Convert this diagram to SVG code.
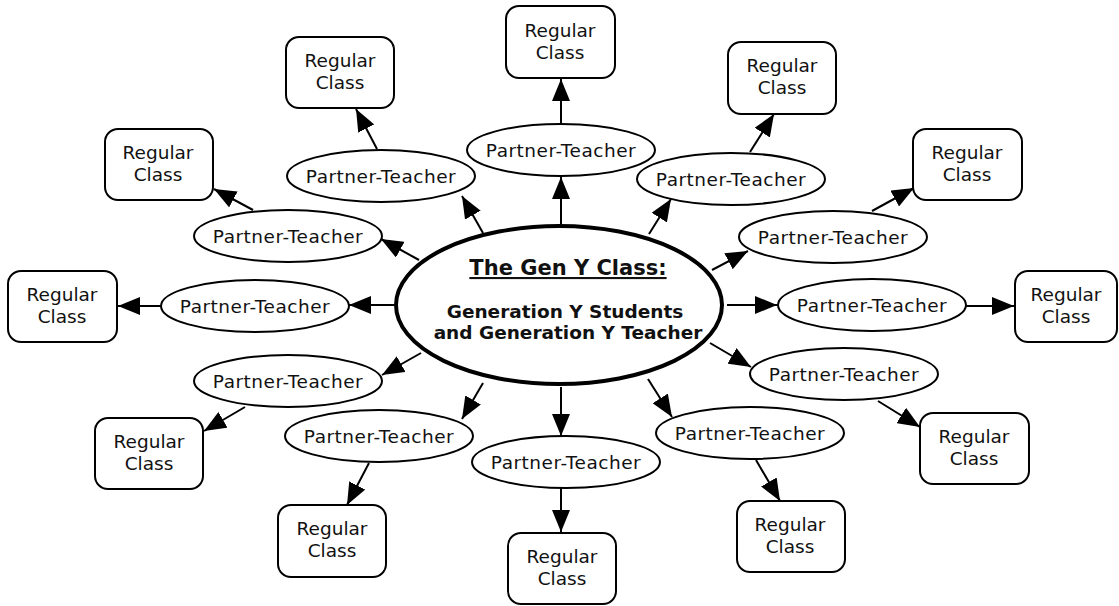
<svg xmlns="http://www.w3.org/2000/svg" width="1119" height="606" viewBox="0 0 1119 606">
<style>
.pt{fill:#fff;stroke:#000;stroke-width:2}
.rc{fill:#fff;stroke:#000;stroke-width:2}
.t{font-family:"DejaVu Sans","Liberation Sans",sans-serif;font-size:18.5px;fill:#111;text-anchor:middle}
.p{letter-spacing:0.5px}
.b{font-weight:bold;font-size:18.5px}
.c line{stroke:#000;stroke-width:2;marker-end:url(#ah)}
</style>
<defs>
<marker id="ah" markerUnits="userSpaceOnUse" markerWidth="22" markerHeight="18" refX="22" refY="9" orient="auto" viewBox="0 0 22 18">
<path d="M0,0 L22,9 L0,18 z" fill="#000"/>
</marker>
</defs>
<rect width="1119" height="606" fill="#fff"/>
<g id="connectors" class="c">
<line x1="561" y1="224" x2="561" y2="177"/>
<line x1="483" y1="233" x2="462" y2="196"/>
<line x1="649" y1="234" x2="671" y2="199"/>
<line x1="419" y1="260" x2="381" y2="239"/>
<line x1="712" y1="270" x2="748" y2="251"/>
<line x1="395" y1="305" x2="349" y2="305"/>
<line x1="727" y1="305" x2="777" y2="305"/>
<line x1="421" y1="353" x2="382" y2="375"/>
<line x1="710" y1="343" x2="751" y2="367"/>
<line x1="483" y1="383" x2="462" y2="419"/>
<line x1="648" y1="379" x2="672" y2="417"/>
<line x1="561" y1="387" x2="561" y2="436"/>
<line x1="561" y1="123" x2="561" y2="79"/>
<line x1="377" y1="149" x2="356" y2="109"/>
<line x1="750" y1="152" x2="774" y2="114"/>
<line x1="253" y1="210" x2="214" y2="189"/>
<line x1="872" y1="211" x2="914" y2="188"/>
<line x1="161" y1="306" x2="118" y2="306"/>
<line x1="966" y1="306" x2="1014" y2="306"/>
<line x1="245" y1="407" x2="204" y2="431"/>
<line x1="878" y1="401" x2="920" y2="427"/>
<line x1="369" y1="463" x2="347" y2="505"/>
<line x1="756" y1="460" x2="780" y2="501"/>
<line x1="561" y1="488" x2="561" y2="532"/>
</g>
<g id="center">
<ellipse cx="559" cy="305" rx="163" ry="79" fill="#fff" stroke="#000" stroke-width="4"/>
<text class="t b" x="568" y="275" style="font-size:21px" text-decoration="underline">The Gen Y Class:</text>
<text class="t b" x="565" y="318">Generation Y Students</text>
<text class="t b" x="568" y="339">and Generation Y Teacher</text>
</g>
<g id="pt1"><ellipse class="pt" cx="561" cy="150" rx="94" ry="26"/><text class="t p" x="561" y="157">Partner-Teacher</text></g>
<g id="pt2"><ellipse class="pt" cx="381" cy="176" rx="94" ry="26"/><text class="t p" x="381" y="183">Partner-Teacher</text></g>
<g id="pt3"><ellipse class="pt" cx="731" cy="179" rx="94" ry="26"/><text class="t p" x="731" y="186">Partner-Teacher</text></g>
<g id="pt4"><ellipse class="pt" cx="288" cy="236" rx="94" ry="26"/><text class="t p" x="288" y="243">Partner-Teacher</text></g>
<g id="pt5"><ellipse class="pt" cx="833" cy="237" rx="94" ry="26"/><text class="t p" x="833" y="244">Partner-Teacher</text></g>
<g id="pt6"><ellipse class="pt" cx="255" cy="306" rx="94" ry="26"/><text class="t p" x="255" y="313">Partner-Teacher</text></g>
<g id="pt7"><ellipse class="pt" cx="872" cy="305" rx="94" ry="26"/><text class="t p" x="872" y="312">Partner-Teacher</text></g>
<g id="pt8"><ellipse class="pt" cx="288" cy="381" rx="94" ry="26"/><text class="t p" x="288" y="388">Partner-Teacher</text></g>
<g id="pt9"><ellipse class="pt" cx="844" cy="374" rx="94" ry="26"/><text class="t p" x="844" y="381">Partner-Teacher</text></g>
<g id="pt10"><ellipse class="pt" cx="379" cy="436" rx="94" ry="26"/><text class="t p" x="379" y="443">Partner-Teacher</text></g>
<g id="pt11"><ellipse class="pt" cx="750" cy="433" rx="94" ry="26"/><text class="t p" x="750" y="440">Partner-Teacher</text></g>
<g id="pt12"><ellipse class="pt" cx="566" cy="462" rx="94" ry="26"/><text class="t p" x="566" y="469">Partner-Teacher</text></g>
<g id="rcA"><rect class="rc" x="506" y="6" width="109" height="72" rx="13"/><text class="t" x="560" y="37">Regular</text><text class="t" x="560" y="59">Class</text></g>
<g id="rcB"><rect class="rc" x="286" y="37" width="108" height="71" rx="13"/><text class="t" x="340" y="67">Regular</text><text class="t" x="340" y="89">Class</text></g>
<g id="rcC"><rect class="rc" x="728" y="42" width="108" height="72" rx="13"/><text class="t" x="782" y="72">Regular</text><text class="t" x="782" y="94">Class</text></g>
<g id="rcD"><rect class="rc" x="105" y="129" width="108" height="71" rx="13"/><text class="t" x="158" y="159">Regular</text><text class="t" x="158" y="181">Class</text></g>
<g id="rcE"><rect class="rc" x="913" y="129" width="109" height="71" rx="13"/><text class="t" x="967" y="159">Regular</text><text class="t" x="967" y="181">Class</text></g>
<g id="rcF"><rect class="rc" x="8" y="271" width="109" height="71" rx="13"/><text class="t" x="62" y="301">Regular</text><text class="t" x="62" y="323">Class</text></g>
<g id="rcG"><rect class="rc" x="1015" y="271" width="102" height="71" rx="13"/><text class="t" x="1066" y="301">Regular</text><text class="t" x="1066" y="323">Class</text></g>
<g id="rcH"><rect class="rc" x="95" y="418" width="108" height="71" rx="13"/><text class="t" x="149" y="448">Regular</text><text class="t" x="149" y="470">Class</text></g>
<g id="rcI"><rect class="rc" x="920" y="413" width="109" height="71" rx="13"/><text class="t" x="974" y="443">Regular</text><text class="t" x="974" y="465">Class</text></g>
<g id="rcJ"><rect class="rc" x="278" y="505" width="108" height="72" rx="13"/><text class="t" x="332" y="535">Regular</text><text class="t" x="332" y="557">Class</text></g>
<g id="rcK"><rect class="rc" x="737" y="501" width="108" height="71" rx="13"/><text class="t" x="790" y="531">Regular</text><text class="t" x="790" y="553">Class</text></g>
<g id="rcL"><rect class="rc" x="508" y="533" width="108" height="71" rx="13"/><text class="t" x="562" y="563">Regular</text><text class="t" x="562" y="585">Class</text></g>
</svg>
